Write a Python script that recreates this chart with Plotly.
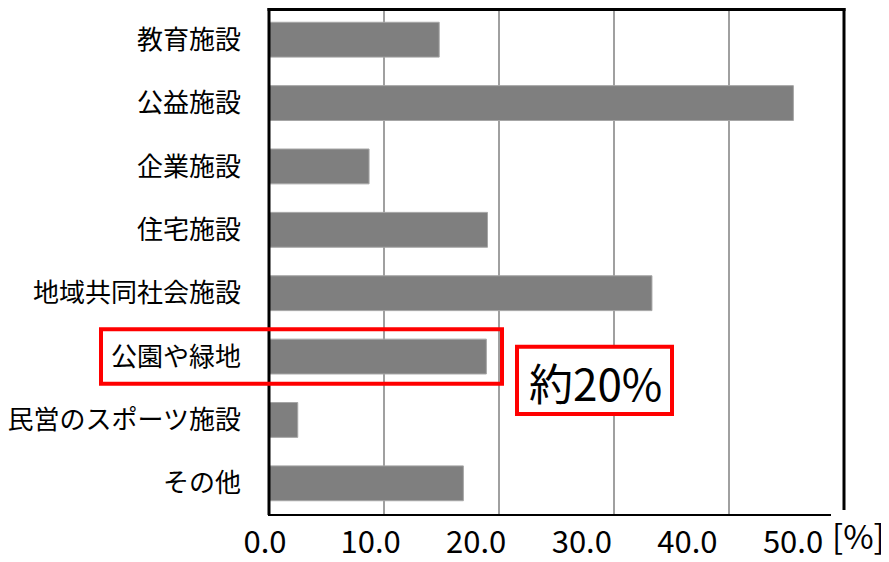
import plotly.graph_objects as go

categories = ["教育施設", "公益施設", "企業施設", "住宅施設", "地域共同社会施設",
              "公園や緑地", "民営のスポーツ施設", "その他"]
values = [14.8, 45.6, 8.7, 19.0, 33.3, 18.9, 2.5, 16.9]
tick_vals = [0, 10, 20, 30, 40, 50]
tick_text = ["0.0", "10.0", "20.0", "30.0", "40.0", "50.0"]
highlight = "公園や緑地"
note_text = "約20%"
unit_text = "[%]"

FONT = "Noto Sans CJK JP"
OFF = 8                      # browser body margin
W, H = 889 - OFF, 562 - OFF
PL, PR, PT, PB = 265, 845, 8, 520   # plot area in screen pixels
pw, ph = PR - PL, PB - PT

def px_x(p):
    return (p - PL) / pw

def px_y(p):
    return (PB - p) / ph

# main axis: 0 -> 269px, 50 -> 844px
x_scale = (844 - 269) / 50.0
x_range = [-(269 - PL) / x_scale, (PR - 269) / x_scale]
# label axis: labels spaced 105.6px starting at 265px
lab_scale = 105.6 / 10.0
lab_range = [0, pw / lab_scale]

fig = go.Figure(go.Bar(
    x=values, y=categories, orientation="h",
    marker=dict(color="#7f7f7f", line=dict(color="#a6a6a6", width=1)),
    width=0.55, xaxis="x", yaxis="y",
))
# invisible helper trace for label axis
fig.add_trace(go.Scatter(x=[], y=[], xaxis="x2", yaxis="y", showlegend=False))

hi = categories.index(highlight)

frame = dict(color="black", width=3)
TOP = 9.5

fig.update_layout(
    width=W, height=H,
    margin=dict(l=PL - OFF, r=889 - PR, t=PT - OFF, b=H - (PB - OFF), pad=0),
    paper_bgcolor="white", plot_bgcolor="white",
    showlegend=False,
    font=dict(family=FONT, color="black"),
    xaxis=dict(range=x_range, tickvals=tick_vals[1:-1], showticklabels=False,
               showgrid=True, gridcolor="#a0a0a0", gridwidth=2,
               showline=False, zeroline=False, ticks=""),
    xaxis2=dict(range=lab_range, overlaying="x", anchor="y", side="bottom",
                tickvals=tick_vals, ticktext=tick_text,
                showgrid=False, showline=False, zeroline=False, ticks="",
                tickfont=dict(size=31, family=FONT), ticklabelstandoff=6),
    yaxis=dict(autorange="reversed", showgrid=False, showline=False,
               ticks="", tickfont=dict(size=26, family=FONT),
               ticklabelstandoff=23),
    shapes=[
        # frame
        dict(type="line", xref="paper", yref="paper", x0=px_x(269), x1=px_x(269),
             y0=0, y1=px_y(TOP - 1.5), line=frame),
        dict(type="line", xref="paper", yref="paper", x0=px_x(267.5), x1=px_x(845.5),
             y0=px_y(TOP), y1=px_y(TOP), line=frame),
        dict(type="line", xref="paper", yref="paper", x0=px_x(844), x1=px_x(844),
             y0=px_y(515), y1=px_y(TOP - 1.5), line=frame),
        dict(type="line", xref="paper", yref="paper", x0=px_x(268), x1=px_x(831),
             y0=0, y1=0, line=dict(color="black", width=2)),
        # highlight box around category
        dict(type="rect", xref="paper", yref="y",
             x0=px_x(101), x1=px_x(502), y0=hi - 0.43, y1=hi + 0.43,
             line=dict(color="#ff0000", width=4)),
        # note box
        dict(type="rect", xref="paper", yref="paper",
             x0=px_x(517), x1=px_x(672), y0=px_y(418), y1=px_y(350),
             line=dict(color="#ff0000", width=4), fillcolor="white"),
    ],
    annotations=[
        dict(text=note_text, xref="paper", yref="paper",
             x=px_x(595), y=px_y(386), xanchor="center", yanchor="middle",
             showarrow=False, font=dict(size=44, family=FONT, color="black")),
        dict(text=unit_text, xref="paper", yref="paper",
             x=px_x(858), y=px_y(540), xanchor="center", yanchor="middle",
             showarrow=False, font=dict(size=33, family=FONT, color="black")),
    ],
)

fig.write_html("out.html")
